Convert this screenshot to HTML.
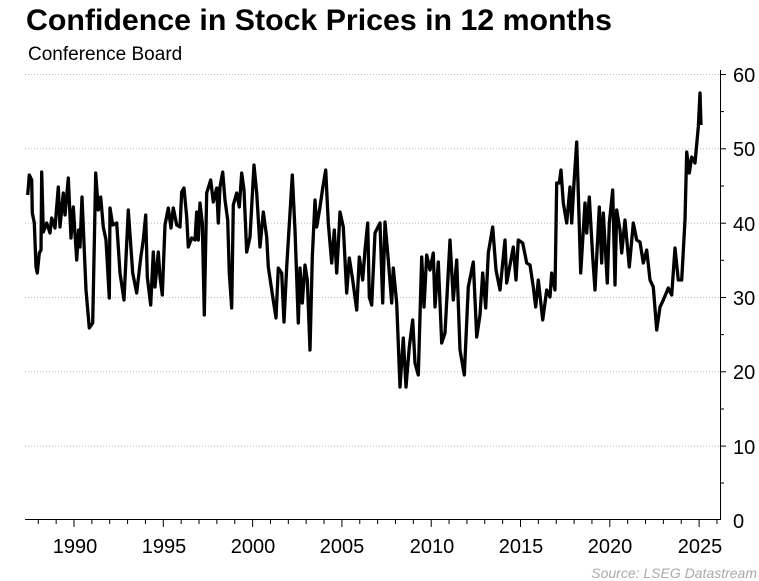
<!DOCTYPE html>
<html><head><meta charset="utf-8"><style>
body{margin:0;background:#fff;width:759px;height:581px;overflow:hidden}
svg{display:block;font-family:"Liberation Sans",Arial,sans-serif}
</style></head><body>
<svg width="759" height="581" viewBox="0 0 759 581">
<text x="26" y="30" font-size="30" font-weight="bold" fill="#000" textLength="586" lengthAdjust="spacingAndGlyphs">Confidence in Stock Prices in 12 months</text>
<text x="28" y="60" font-size="19" fill="#000">Conference Board</text>
<g stroke="#bbb" stroke-width="1" stroke-dasharray="1,2">
<line x1="25" x2="720" y1="74.5" y2="74.5"/><line x1="25" x2="720" y1="148.8" y2="148.8"/>
<line x1="25" x2="720" y1="223.2" y2="223.2"/><line x1="25" x2="720" y1="297.5" y2="297.5"/>
<line x1="25" x2="720" y1="371.8" y2="371.8"/><line x1="25" x2="720" y1="446.1" y2="446.1"/>
</g>
<g stroke="#000" stroke-width="1">
<line x1="720.5" x2="720.5" y1="70" y2="520"/>
<line x1="25" x2="721" y1="519.5" y2="519.5"/>
<line x1="720" x2="726" y1="74.5" y2="74.5"/><line x1="720" x2="724" y1="111.6" y2="111.6"/>
<line x1="720" x2="726" y1="148.8" y2="148.8"/><line x1="720" x2="724" y1="186" y2="186"/>
<line x1="720" x2="726" y1="223.2" y2="223.2"/><line x1="720" x2="724" y1="260.3" y2="260.3"/>
<line x1="720" x2="726" y1="297.5" y2="297.5"/><line x1="720" x2="724" y1="334.6" y2="334.6"/>
<line x1="720" x2="726" y1="371.8" y2="371.8"/><line x1="720" x2="724" y1="409" y2="409"/>
<line x1="720" x2="726" y1="446.1" y2="446.1"/><line x1="720" x2="724" y1="483" y2="483"/>
</g>
<g id="xt" stroke="#000" stroke-width="1"></g>
<g font-size="20" fill="#000">
<text x="733" y="82">60</text><text x="733" y="156">50</text><text x="733" y="231">40</text>
<text x="733" y="305">30</text><text x="733" y="379">20</text><text x="733" y="454">10</text>
<text x="733" y="528">0</text>
</g>
<g font-size="20" fill="#000" text-anchor="middle">
<text x="75" y="553">1990</text><text x="164" y="553">1995</text><text x="253" y="553">2000</text>
<text x="342" y="553">2005</text><text x="432" y="553">2010</text><text x="521" y="553">2015</text>
<text x="610" y="553">2020</text><text x="700" y="553">2025</text>
</g>
<text x="757" y="578" font-size="14" font-style="italic" fill="#aaa" text-anchor="end">Source: LSEG Datastream</text>
<polyline fill="none" stroke="#000" stroke-width="3.3" stroke-linejoin="round" points="
27.7,195 29.3,175 31.7,180 32.3,213 34.3,223 36,267 37.3,273 39.3,253 41,250 41.7,172 43.3,232 46.7,223 50,233 51.7,218 55,228 58.3,187 60,227 63.3,193 65,215 68.3,178 71,238 73.3,207 76.7,260 78.7,230 80,247 82,197 86,290 89.3,328 92.7,323 95.7,173 98.3,210 100.7,197 103.3,227 106,240 109.3,298 110,208 112.7,225 116.7,223 120,273 124,300 128.3,210 132.7,273 136.7,293 140.7,258 143.3,240 145.7,215 147.3,277 150.7,305 153.3,252 155,287 158.3,252 160,277 162.3,295 165,225 168.3,208 171,228 173.3,208 176.7,225 180,227 181.7,192 184,188 186.7,217 188.3,247 191.7,238 195,240 196.7,212 198.3,240 200,203 202.3,223 204.3,315 206.7,193 210.7,180 213.3,202 216.7,188 218.3,223 220,187 222.7,172 225,200 227.7,220 229.3,273 231.7,308 233.3,205 236.7,193 239.3,207 241.7,173 244,190 246.7,252 250,237 254,165 256.7,193 260,247 263.3,212 266.7,237 268.3,267 271.7,290 276,318 278.3,268 281.7,273 284,322 286.7,267 290,213 292.3,175 295,230 298.3,323 300,268 302.3,303 305,265 307.3,280 310,350 312.3,257 315,200 316.7,227 320,207 322.7,188 325.7,170 328.3,223 331.7,263 334.3,230 336.7,273 338.3,245 340,212 343.3,227 346.7,293 349.3,258 352.7,280 356.7,310 359.3,257 362.7,280 365,250 367.7,223 369.3,297 371.7,305 375,233 380,223 382.7,303 385,222 388.3,260 391.7,303 393.3,268 396.7,303 400,387 403.3,338 406,387 409.3,347 412.7,320 415,363 418.3,375 421.7,257 424,307 426.7,255 430,270 433.3,253 435,307 438.3,262 441.7,343 445,333 450,240 453.3,300 456.7,260 460,350 464.3,375 468.3,287 473.3,262 476.7,337 480,315 482.7,273 485.7,308 488.3,253 492.7,227 496,270 500,290 505,240 506.7,283 510,265 513.3,247 516,280 518.3,240 522.7,243 526.7,263 530,265 533.3,287 535.7,307 538.3,280 542.7,320 546.7,290 550,297 551.7,273 555,290 556.7,183 559.3,183 561,170 563.3,203 566.7,223 570,187 571.7,223 574,183 576.7,142 578.3,193 580.7,273 585,203 586.7,233 589.3,197 592.7,257 595,290 599.3,207 601.7,263 603.3,213 607.3,283 609.3,223 612.7,190 615,285 616.7,210 620,230 621.7,253 625,220 629.3,267 633.3,223 636.7,240 640,242 643.3,263 646.7,250 650,280 653.3,287 656.7,330 660,307 663.3,300 668.3,288 671.7,295 675,248 678.3,280 681.7,280 685,220 686.7,152 689.3,173 691.7,157 695,163 698.3,127 700,93 701,125"/>
</svg>
<script>
var g=document.getElementById('xt'),s='';
for(var y=1988;y<=2026;y++){var x=74+(y-1990)*17.86;var L=(y%5==0)?7:4;
s+='<line x1="'+x+'" x2="'+x+'" y1="520" y2="'+(520+L)+'"/>';}
g.innerHTML=s;
</script>
</body></html>
